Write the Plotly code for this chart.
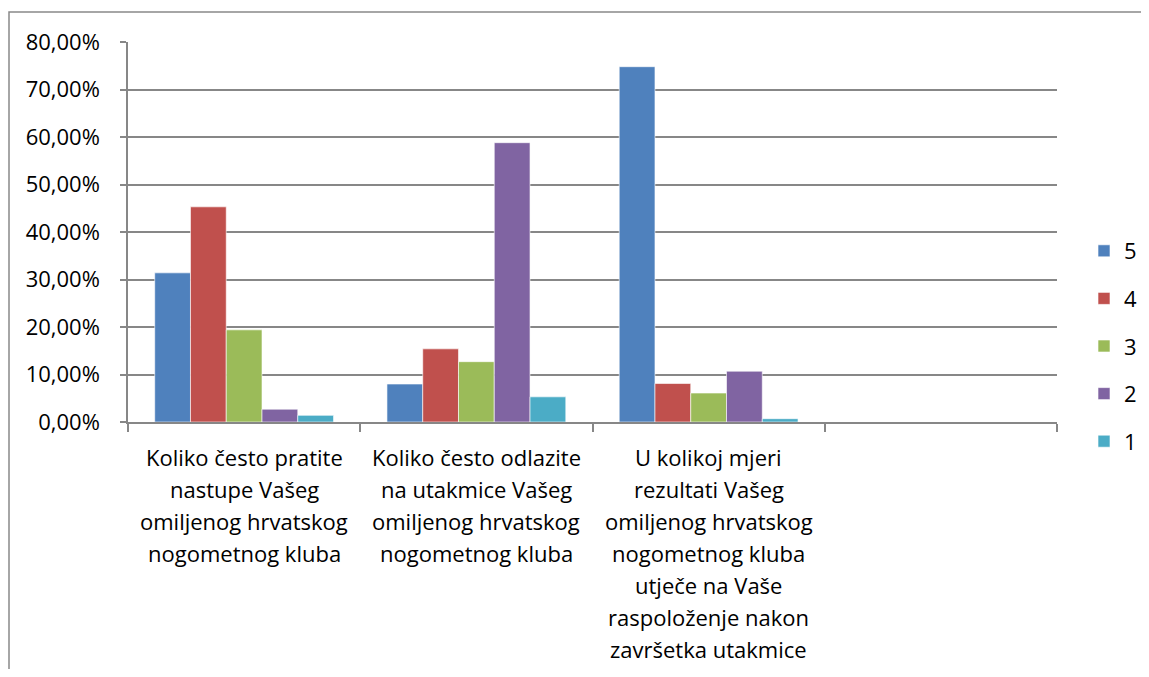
import plotly.graph_objects as go

categories = [
    "Koliko često pratite<br>nastupe Vašeg<br>omiljenog hrvatskog<br>nogometnog kluba",
    "Koliko često odlazite<br>na utakmice Vašeg<br>omiljenog hrvatskog<br>nogometnog kluba",
    "U kolikoj mjeri<br>rezultati Vašeg<br>omiljenog hrvatskog<br>nogometnog kluba<br>utječe na Vaše<br>raspoloženje nakon<br>završetka utakmice",
    " ",
]
series_names = ["5", "4", "3", "2", "1"]
values_5 = [31.4, 8.0, 74.8, None]
values_4 = [45.3, 15.4, 8.1, None]
values_3 = [19.4, 12.7, 6.1, None]
values_2 = [2.7, 58.8, 10.7, None]
values_1 = [1.4, 5.3, 0.7, None]
series_values = [values_5, values_4, values_3, values_2, values_1]
colors = ["#4F81BD", "#C0504D", "#9BBB59", "#8064A2", "#4BACC6"]
y_ticks = [0, 10, 20, 30, 40, 50, 60, 70, 80]
y_tick_labels = ["0,00%", "10,00%", "20,00%", "30,00%", "40,00%", "50,00%", "60,00%", "70,00%", "80,00%"]

FONT = "'Open Sans', 'Noto Sans', sans-serif"
FS = 22
GRID = "#878787"

# page has an 8px body margin; figure sized so the window holds it exactly
W, H = 1133, 661
OFF = 8
PL, PR, PT, PB = 128, 1057, 42, 422  # plot area in window pixels

fig = go.Figure()
for name, vals, col in zip(series_names, series_values, colors):
    fig.add_trace(go.Bar(
        x=categories, y=vals, name=name,
        marker=dict(color=col, line=dict(color="rgba(255,255,255,0.6)", width=1)),
        legendgroup=name,
    ))

# category labels as per-line annotations (Excel-like line spacing)
line_h = 32
for i, cat in enumerate(categories):
    for k, line in enumerate(cat.split("<br>")):
        if not line.strip():
            continue
        fig.add_annotation(
            x=i, y=0, xref="x", yref="y", text=line, showarrow=False,
            yanchor="middle", xanchor="center", yshift=-(35 + k * line_h),
            font=dict(family=FONT, size=FS, color="#000000"),
        )

pw = PR - PL
ph = PB - PT
fig.update_layout(
    width=W, height=H,
    margin=dict(l=PL - OFF, r=W + OFF - PR, t=PT - OFF, b=H + OFF - PB, pad=0, autoexpand=False),
    paper_bgcolor="white", plot_bgcolor="white",
    barmode="group", bargap=0.23, bargroupgap=0,
    font=dict(family=FONT, size=FS, color="#000000"),
    showlegend=True,
    legend=dict(xref="container", yref="container",
                x=(1084 - OFF) / W, y=(H + OFF - 346) / H, xanchor="left", yanchor="middle",
                font=dict(family=FONT, size=FS, color="#000000"),
                traceorder="grouped", tracegroupgap=16, itemwidth=30),
    xaxis=dict(
        type="category", categoryorder="array", categoryarray=categories,
        range=[-0.5, len(categories) - 0.5],
        showticklabels=False,
        tickson="boundaries", ticks="outside", ticklen=8, tickwidth=1.5, tickcolor=GRID,
        showline=True, linecolor=GRID, linewidth=1.5, showgrid=False, zeroline=False,
    ),
    yaxis=dict(
        range=[0, 80], tickmode="array", tickvals=y_ticks, ticktext=y_tick_labels,
        ticks="outside", ticklen=6, tickwidth=1.5, tickcolor=GRID,
        showline=True, linecolor=GRID, linewidth=1.5,
        showgrid=True, gridcolor=GRID, gridwidth=1.5, zeroline=False,
        tickfont=dict(family=FONT, size=FS, color="#000000"), ticklabelstandoff=16,
    ),
    shapes=[dict(type="rect", xref="paper", yref="paper",
                 x0=(9 - PL) / pw, x1=(1400 - PL) / pw,
                 y0=(PB - 900) / ph, y1=(PB - 12) / ph,
                 line=dict(color="#898989", width=1.5), layer="below")],
)

fig.write_html("out.html")
